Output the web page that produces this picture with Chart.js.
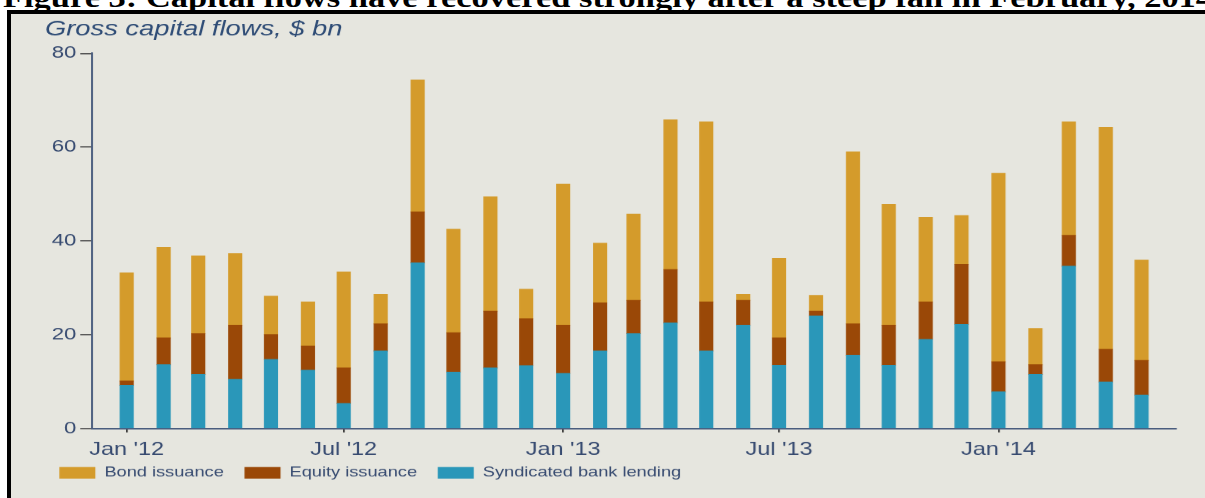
<!DOCTYPE html>
<html>
<head>
<meta charset="utf-8">
<script src="https://cdn.jsdelivr.net/npm/chart.js@4.4.1/dist/chart.umd.min.js"></script>
<style>
  html, body { margin: 0; padding: 0; background: #fff; overflow: hidden; }
  body { width: 1205px; height: 498px; position: relative; }
  #fig { position: absolute; left: 3px; top: -15px; white-space: nowrap; font: bold 26.5px/26.5px "Liberation Serif", serif; color: #000; transform: scaleX(1.3); transform-origin: 0 0; }
  #frame { position: absolute; left: 7px; top: 10px; width: 1194px; height: 484px; border-left: 4px solid #000; border-top: 4px solid #000; background: #e6e6df; }
  #wrap { position: absolute; left: 0; top: 0; width: 926.9px; height: 498px; transform: scaleX(1.3); transform-origin: 0 0; }
</style>
</head>
<body>
<div id="fig">Figure 3: Capital flows have recovered strongly after a steep fall in February, 2014</div>
<div id="frame"></div>
<div id="wrap"><canvas id="chart"></canvas></div>
<script>
// monthly data, $ bn
var months = ['2012-01','2012-02','2012-03','2012-04','2012-05','2012-06','2012-07','2012-08','2012-09','2012-10','2012-11','2012-12',
              '2013-01','2013-02','2013-03','2013-04','2013-05','2013-06','2013-07','2013-08','2013-09','2013-10','2013-11','2013-12',
              '2014-01','2014-02','2014-03','2014-04','2014-05'];
var bankLending    = [9.2,13.6,11.5,10.5,14.7,12.4,5.3,16.5,35.3,12.0,12.9,13.4,11.7,16.5,20.2,22.5,16.5,22.0,13.5,24.0,15.6,13.5,19.0,22.2,7.8,11.5,34.6,9.9,7.1];
var equityIssuance = [0.9,5.7,8.7,11.5,5.3,5.2,7.6,5.8,10.9,8.4,12.1,10.0,10.3,10.3,7.1,11.4,10.5,5.3,5.8,1.0,6.7,8.5,8.0,12.8,6.4,2.1,6.6,7.0,7.4];
var bondIssuance   = [23.1,19.3,16.6,15.3,8.2,9.4,20.5,6.3,28.1,22.1,24.4,6.3,30.1,12.7,18.4,31.9,38.4,1.3,17.0,3.4,36.7,25.8,18.0,10.4,40.2,7.7,24.2,47.3,21.4];

var seriesNames = ['Syndicated bank lending', 'Equity issuance', 'Bond issuance'];
var tickMonths = ['2012-01','2012-07','2013-01','2013-07','2014-01'];
var tickLabels = ["Jan '12", "Jul '12", "Jan '13", "Jul '13", "Jan '14"];
var caption = 'Gross capital flows, $ bn';

var textColor = '#35496f';
var axisColor = '#4a5d7e';

// days since 1 Jan 2012
function dayOf(m) {
  var p = m.split('-');
  return (Date.UTC(+p[0], +p[1] - 1, 1) - Date.UTC(2012, 0, 1)) / 864e5;
}
function points(vals) {
  return vals.map(function(v, i) { return {x: dayOf(months[i]), y: v}; });
}

var captionPlugin = {
  id: 'caption',
  afterLayout: function(chart) {
    // pull the legend up under the tick labels
    chart.legend.top -= 8.5;
    chart.legend.bottom -= 8.5;
  },
  afterDraw: function(chart) {
    var ctx = chart.ctx;
    ctx.save();
    ctx.font = 'italic 21px "Liberation Sans"';
    ctx.fillStyle = '#2d4b75';
    ctx.textBaseline = 'alphabetic';
    ctx.fillText(caption, 34.6, 35);
    ctx.restore();
  }
};

var ctx = document.getElementById('chart');
new Chart(ctx, {
  type: 'bar',
  data: {
    datasets: [
      {label: seriesNames[0], data: points(bankLending), backgroundColor: '#2a97b9'},
      {label: seriesNames[1], data: points(equityIssuance), backgroundColor: '#9a4807'},
      {label: seriesNames[2], data: points(bondIssuance), backgroundColor: '#d49b2b'}
    ]
  },
  options: {
    responsive: true,
    maintainAspectRatio: false,
    animation: false,
    devicePixelRatio: 1.3,
    layout: {padding: {left: 29.7, right: 22.7, top: 53.3, bottom: 0}},
    datasets: {bar: {barThickness: 10.2}},
    scales: {
      x: {
        type: 'linear',
        stacked: true,
        min: -28.8,
        max: 879.5,
        offset: false,
        grid: {drawOnChartArea: false, offset: false, tickLength: 4, color: '#333', lineWidth: 1.3},
        border: {display: true, color: axisColor, width: 1.5},
        afterBuildTicks: function(s) {
          s.ticks = tickMonths.map(function(m) { return {value: dayOf(m)}; });
        },
        afterFit: function(s) { s.height = 30; },
        ticks: {
          callback: function(v, i) { return tickLabels[i]; },
          font: {family: 'Liberation Sans', size: 18},
          color: textColor,
          padding: 6.5,
          maxRotation: 0,
          autoSkip: false
        }
      },
      y: {
        stacked: true,
        min: 0,
        max: 80,
        ticks: {stepSize: 20, font: {family: 'Liberation Sans', size: 17}, color: textColor, padding: 3},
        grid: {drawOnChartArea: false, tickLength: 9.3, color: '#555', lineWidth: 1.2},
        border: {display: true, color: axisColor, width: 1.5},
        afterFit: function(s) { s.width = 41.3; }
      }
    },
    plugins: {
      legend: {
        position: 'bottom',
        align: 'start',
        reverse: true,
        labels: {
          boxWidth: 27.7,
          boxHeight: 11.6,
          padding: 15.9,
          color: textColor,
          font: {family: 'Liberation Sans', size: 14}
        }
      },
      tooltip: {enabled: false}
    }
  },
  plugins: [captionPlugin]
});
</script>
</body>
</html>
